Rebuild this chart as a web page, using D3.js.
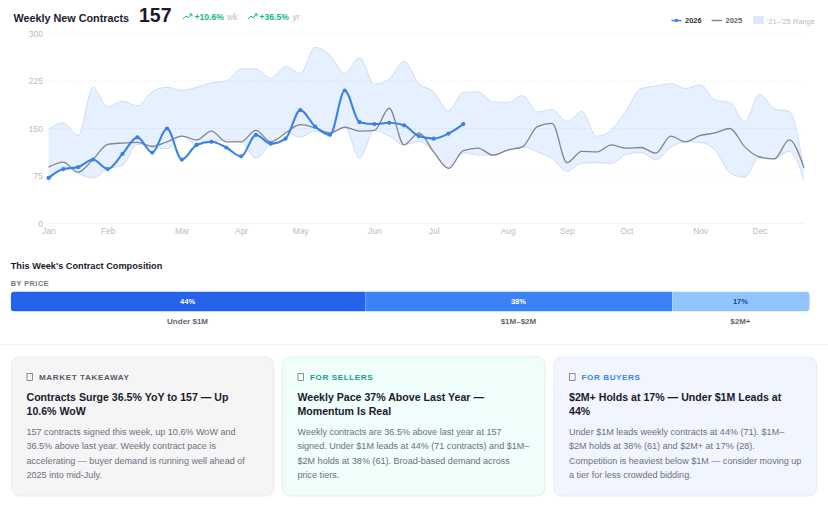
<!DOCTYPE html>
<html>
<head>
<meta charset="utf-8">
<script src="https://cdn.jsdelivr.net/npm/d3@7"></script>
<style>
  html, body { margin: 0; padding: 0; background: #fff; }
  svg { display: block; font-family: "Liberation Sans", Arial, sans-serif; }
</style>
</head>
<body>
<div id="chart"></div>
<script>
// tick labels and the week each month starts on
var monthLabels = ["Jan", "Feb", "Mar", "Apr", "May", "Jun", "Jul", "Aug", "Sep", "Oct", "Nov", "Dec"];
var monthWeeks = [0, 4, 9, 13, 17, 22, 26, 31, 35, 39, 44, 48];
var yTicks = [0, 75, 150, 225, 300];

// weekly contracts
var series2026 = [72, 86, 89, 101, 86, 110, 136, 112, 150, 101, 124, 129, 120, 106, 140, 126, 134, 179, 153, 140,
  210, 160, 157, 159, 155, 138, 134, 142, 157];
var series2025 = [89, 97, 81, 101, 125, 127, 128, 122, 129, 138, 132, 146, 129, 129, 147, 129, 143, 156, 151, 143,
  152, 146, 147, 182, 124, 143, 113, 87, 115, 119, 108, 116, 121, 153, 158, 96, 114, 113, 124, 119,
  120, 111, 138, 129, 139, 143, 150, 121, 105, 102, 132, 88];
var rangeHigh = [149, 159, 139, 215, 184, 193, 186, 208, 215, 210, 215, 222, 225, 244, 244, 229, 248, 237, 278, 266,
  237, 262, 220, 228, 256, 221, 208, 178, 207, 208, 192, 191, 202, 176, 180, 161, 177, 138, 148, 179,
  213, 217, 221, 213, 219, 195, 191, 161, 204, 181, 177, 84];
var rangeLow = [65, 90, 79, 72, 86, 92, 125, 120, 118, 138, 124, 129, 132, 129, 103, 127, 146, 136, 146, 143,
  152, 103, 147, 138, 124, 130, 113, 87, 112, 108, 108, 116, 121, 113, 103, 82, 95, 96, 95, 109,
  112, 101, 120, 129, 128, 116, 80, 73, 105, 102, 114, 69];

// composition bar
var priceLabels = ["Under $1M", "$1M–$2M", "$2M+"];
var priceShares = [44, 38, 17];
var priceColors = ["#2563eb", "#3b82f6", "#93c5fd"];
var priceTextColors = ["#ffffff", "#ffffff", "#1e40af"];

// text cards
var cardTags = ["MARKET TAKEAWAY", "FOR SELLERS", "FOR BUYERS"];
var cardHeads = [
  ["Contracts Surge 36.5% YoY to 157 — Up", "10.6% WoW"],
  ["Weekly Pace 37% Above Last Year —", "Momentum Is Real"],
  ["$2M+ Holds at 17% — Under $1M Leads at", "44%"]
];
var cardBodies = [
  ["157 contracts signed this week, up 10.6% WoW and", "36.5% above last year. Weekly contract pace is", "accelerating — buyer demand is running well ahead of", "2025 into mid-July."],
  ["Weekly contracts are 36.5% above last year at 157", "signed. Under $1M leads at 44% (71 contracts) and $1M–", "$2M holds at 38% (61). Broad-based demand across", "price tiers."],
  ["Under $1M leads weekly contracts at 44% (71). $1M–", "$2M holds at 38% (61) and $2M+ at 17% (28).", "Competition is heaviest below $1M — consider moving up", "a tier for less crowded bidding."]
];
var cardFills = ["#f5f5f5", "#effdfb", "#f1f5ff"];
var cardBorders = ["#ebebeb", "#dff2ee", "#e6ebf8"];
var cardTagColors = ["#555b66", "#14a08e", "#3b82f6"];

var svg = d3.select("#chart").append("svg")
  .attr("width", 828)
  .attr("height", 506);

svg.append("rect").attr("width", 828).attr("height", 506).attr("fill", "#fff");

//header
function addText(x, y, str, size, color, weight, anchor, spacing) {
  return svg.append("text")
    .attr("x", x)
    .attr("y", y)
    .attr("font-size", size)
    .attr("fill", color)
    .attr("font-weight", weight || "normal")
    .attr("text-anchor", anchor || "start")
    .attr("letter-spacing", spacing || 0)
    .text(str);
}

function trendIcon(x, y) {
  svg.append("path")
    .attr("transform", `translate(${x}, ${y})`)
    .attr("d", "M0 5 L3 2 L5 3.6 L9 0 M6.4 0 L9 0 L9 2.4")
    .attr("fill", "none")
    .attr("stroke", "#10b981")
    .attr("stroke-width", 1);
}

addText(13.5, 21.5, "Weekly New Contracts", 10.8, "#1a1a2e", "bold");
addText(139, 22, "157", 19.5, "#1a1a2e", "bold");
trendIcon(183, 14);
addText(194.5, 20, "+10.6%", 8.6, "#10b981", "bold");
addText(227, 20, "wk", 8.6, "#bbbbbb");
trendIcon(248, 14);
addText(259.5, 20, "+36.5%", 8.6, "#10b981", "bold");
addText(292.5, 20, "yr", 8.6, "#bbbbbb");

//legend
svg.append("line").attr("x1", 671.5).attr("x2", 681.5).attr("y1", 20.5).attr("y2", 20.5)
  .attr("stroke", "#3b82f6").attr("stroke-width", 1.5);
svg.append("circle").attr("cx", 676.5).attr("cy", 20.5).attr("r", 1.8).attr("fill", "#3b82f6");
addText(685, 23, "2026", 7.5, "#333333", "bold");
svg.append("line").attr("x1", 711.5).attr("x2", 722).attr("y1", 20.5).attr("y2", 20.5)
  .attr("stroke", "#888888").attr("stroke-width", 1.5);
addText(725.5, 23, "2025", 7.5, "#666666", "bold");
svg.append("rect").attr("x", 753).attr("y", 16).attr("width", 11).attr("height", 8)
  .attr("fill", "#dfe8fa");
addText(767, 23.5, "'21–'25 Range", 7.5, "#bbbbbb");

//scales for the line chart
var xScale = d3.scaleLinear().domain([0, 51]).range([48.5, 804]);
var yScale = d3.scaleLinear().domain([0, 300]).range([223.5, 33.5]);

//grid lines
svg.append("g").selectAll("line")
  .data(yTicks)
  .enter()
  .append("line")
  .attr("x1", xScale(0))
  .attr("x2", xScale(51))
  .attr("y1", d => yScale(d))
  .attr("y2", d => yScale(d))
  .attr("stroke", "#f0f0f0")
  .attr("stroke-width", 0.8)
  .attr("stroke-dasharray", d => d === 0 ? null : "3 2");

//y labels
var leftAxis = d3.axisLeft(yScale).tickValues(yTicks).tickSize(0).tickPadding(5.5);
var yAxisGroup = svg.append("g")
  .attr("transform", `translate(${xScale(0)}, 0)`)
  .call(leftAxis);

//x labels
var bottomAxis = d3.axisBottom(xScale)
  .tickValues(monthWeeks)
  .tickFormat((d, i) => monthLabels[i])
  .tickSize(0)
  .tickPadding(4);
var xAxisGroup = svg.append("g")
  .attr("transform", `translate(0, ${yScale(0)})`)
  .call(bottomAxis);

[yAxisGroup, xAxisGroup].forEach(function(group) {
  group.select(".domain").remove();
  group.selectAll("text")
    .attr("font-family", "Liberation Sans, Arial, sans-serif")
    .attr("font-size", 8.5)
    .attr("fill", "#bbbbbb");
});

//range band
var rangeArea = d3.area()
  .x((d, i) => xScale(i))
  .y0((d, i) => yScale(rangeLow[i]))
  .y1(d => yScale(d))
  .curve(d3.curveMonotoneX);

svg.append("path")
  .attr("d", rangeArea(rangeHigh))
  .attr("fill", "#3b82f6")
  .attr("fill-opacity", 0.12);

var lineGen = d3.line()
  .x((d, i) => xScale(i))
  .y(d => yScale(d))
  .curve(d3.curveMonotoneX);

svg.append("path")
  .attr("d", lineGen(rangeHigh))
  .attr("fill", "none")
  .attr("stroke", "#c3d6f5")
  .attr("stroke-width", 0.8);

svg.append("path")
  .attr("d", lineGen(rangeLow))
  .attr("fill", "none")
  .attr("stroke", "#c3d6f5")
  .attr("stroke-width", 0.8);

svg.append("path")
  .attr("d", lineGen(series2025))
  .attr("fill", "none")
  .attr("stroke", "#80848c")
  .attr("stroke-width", 1.3);

svg.append("path")
  .attr("d", lineGen(series2026))
  .attr("fill", "none")
  .attr("stroke", "#3b82e6")
  .attr("stroke-width", 2.1);

svg.append("g").selectAll("circle")
  .data(series2026)
  .enter()
  .append("circle")
  .attr("cx", (d, i) => xScale(i))
  .attr("cy", d => yScale(d))
  .attr("r", 2.1)
  .attr("fill", "#3b82e6");

//composition section
addText(10.7, 269, "This Week's Contract Composition", 9.2, "#1a1a2e", "bold");
addText(10.7, 286, "BY PRICE", 7.3, "#777777", "bold", "start", 0.5);

var barScale = d3.scaleLinear()
  .domain([0, d3.sum(priceShares)])
  .range([10.7, 809.7]);

var starts = d3.cumsum([0].concat(priceShares));

svg.append("clipPath").attr("id", "barClip")
  .append("rect")
  .attr("x", barScale.range()[0])
  .attr("y", 291.5)
  .attr("width", barScale.range()[1] - barScale.range()[0])
  .attr("height", 20)
  .attr("rx", 4);

svg.append("g").attr("clip-path", "url(#barClip)")
  .selectAll("rect")
  .data(priceShares)
  .enter()
  .append("rect")
  .attr("x", (d, i) => barScale(starts[i]))
  .attr("y", 291.5)
  .attr("width", d => barScale(d) - barScale(0))
  .attr("height", 20)
  .attr("fill", (d, i) => priceColors[i]);

svg.append("g").selectAll("line")
  .data(priceShares.slice(1))
  .enter()
  .append("line")
  .attr("x1", (d, i) => barScale(starts[i + 1]))
  .attr("x2", (d, i) => barScale(starts[i + 1]))
  .attr("y1", 291.5)
  .attr("y2", 311.5)
  .attr("stroke", "#fff")
  .attr("stroke-opacity", 0.25);

priceShares.forEach(function(d, i) {
  var mid = barScale(starts[i] + d / 2) - 0.7;
  addText(mid, 304, d + "%", 7.5, priceTextColors[i], "bold", "middle");
  addText(mid, 323.5, priceLabels[i], 8, "#666666", "bold", "middle");
});

//divider above the cards
svg.append("line").attr("x1", 0).attr("x2", 828).attr("y1", 344.5).attr("y2", 344.5)
  .attr("stroke", "#f2f2f2");

//cards
var cardX = [11.5, 282.5, 554];
cardTags.forEach(function(tag, i) {
  var x = cardX[i];
  svg.append("rect")
    .attr("x", x)
    .attr("y", 357)
    .attr("width", 262.5)
    .attr("height", 139)
    .attr("rx", 8)
    .attr("fill", cardFills[i])
    .attr("stroke", cardBorders[i]);

  svg.append("rect")
    .attr("x", x + 15.5)
    .attr("y", 373.5)
    .attr("width", 5.6)
    .attr("height", 7)
    .attr("fill", "none")
    .attr("stroke", "#666666")
    .attr("stroke-width", 0.7);

  addText(x + 27.5, 380, tag, 8.1, cardTagColors[i], "bold", "start", 0.6);

  cardHeads[i].forEach(function(line, j) {
    addText(x + 15, 401 + j * 14.2, line, 10.6, "#1a1a2e", "bold");
  });

  cardBodies[i].forEach(function(line, j) {
    addText(x + 15, 435 + j * 14.4, line, 9.05, "#6b7280");
  });
});
</script>
</body>
</html>
